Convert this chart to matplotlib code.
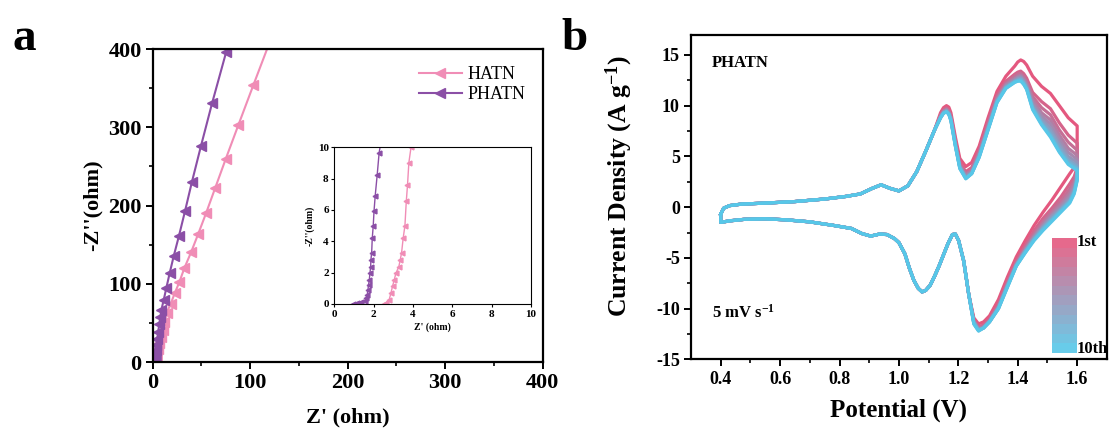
import numpy as np
import matplotlib.pyplot as plt
from matplotlib.colors import LinearSegmentedColormap

plt.rcParams['font.family'] = ['Liberation Serif', 'DejaVu Serif']
plt.rcParams['mathtext.fontset'] = 'custom'
plt.rcParams['mathtext.rm'] = 'Liberation Serif:bold'
plt.rcParams['mathtext.it'] = 'Liberation Serif:bold'
plt.rcParams['mathtext.bf'] = 'Liberation Serif:bold'
plt.rcParams['axes.unicode_minus'] = False

# Nyquist data (ohm)
hatn_re = [2.54, 2.62, 2.79, 2.88, 2.96, 3.05, 3.13, 3.28, 3.35, 3.42, 3.50, 3.59,
           3.66, 3.72, 3.79, 3.9, 5.2, 6.6, 8.2, 10.1, 12.1, 14.4, 18.5, 22.6,
           27.3, 32.5, 39.3, 46.5, 54.7, 64.0, 74.9, 87.9, 103.3, 121.0]
hatn_im = [0.0, 0.06, 0.28, 0.70, 1.13, 1.55, 1.96, 2.38, 2.81, 3.27, 4.19, 5.0,
           6.57, 7.57, 9.02, 10.0, 17, 24, 32, 41, 51, 63, 74.5, 87.8,
           102, 120, 140, 163, 190, 222, 259.4, 302.9, 354, 412]
phatn_re = [0.96, 1.13, 1.38, 1.55, 1.62, 1.67, 1.71, 1.74, 1.78, 1.81, 1.85, 1.86,
            1.90, 1.93, 1.98, 2.02, 2.08, 2.18, 2.28, 3.0, 3.8, 4.7, 5.7, 6.7,
            7.8, 8.9, 11.3, 14.0, 17.4, 21.5, 27.0, 33.2, 40.3, 49.6, 60.9, 75.3]
phatn_im = [0.0, 0.09, 0.15, 0.21, 0.36, 0.57, 0.89, 1.21, 1.53, 1.96, 2.38, 2.81,
            3.27, 4.19, 5.0, 5.93, 6.91, 8.23, 9.66, 15, 22, 30, 39, 48,
            57, 66.5, 79.2, 94.6, 113.4, 135, 161.4, 193, 230.4, 276.4, 330.6, 395.8]

# CV of PHATN, 10 cycles, potential in V, current density in A/g
# low-potential anodic part, same for every cycle
v_up_lo = [0.40, 0.41, 0.43, 0.47, 0.55, 0.65, 0.75, 0.82, 0.87, 0.91, 0.94, 0.97,
           1.00, 1.03, 1.06, 1.09, 1.12]
j_up_lo = [-0.7, -0.1, 0.15, 0.3, 0.4, 0.55, 0.8, 1.05, 1.3, 1.85, 2.2, 1.85,
           1.6, 2.1, 3.5, 5.5, 7.6]
# high-potential anodic part, one row per cycle
v_up_hi = [1.14, 1.15, 1.16, 1.168, 1.175, 1.19, 1.205, 1.225, 1.245, 1.27, 1.30, 1.33,
           1.36, 1.39, 1.40, 1.41, 1.42, 1.43, 1.45, 1.48, 1.51, 1.54, 1.57, 1.60]
j_up_hi = [
    [9.3, 9.8, 10.0, 9.85, 9.3, 6.9, 4.8, 4.0, 4.4, 6.0, 8.8, 11.4, 12.9, 13.9, 14.3, 14.5, 14.35, 14.0, 12.9, 11.9, 11.2, 10.0, 8.8, 8.0],
    [9.1, 9.6, 9.8, 9.55, 9.0, 6.6, 4.4, 3.5, 3.9, 5.6, 8.4, 11.0, 12.4, 13.1, 13.3, 13.4, 13.15, 12.7, 11.3, 10.4, 9.7, 8.3, 7.1, 6.3],
    [9.0, 9.5, 9.7, 9.45, 8.9, 6.4, 4.2, 3.3, 3.7, 5.4, 8.2, 10.8, 12.2, 12.9, 13.1, 13.2, 12.9, 12.4, 10.9, 9.8, 9.1, 7.6, 6.4, 5.6],
    [9.0, 9.45, 9.6, 9.35, 8.8, 6.3, 4.1, 3.2, 3.6, 5.3, 8.0, 10.7, 12.1, 12.7, 12.9, 13.0, 12.7, 12.2, 10.6, 9.3, 8.6, 7.1, 5.8, 5.1],
    [8.9, 9.4, 9.6, 9.3, 8.7, 6.2, 4.0, 3.1, 3.5, 5.2, 7.9, 10.6, 12.0, 12.6, 12.8, 12.9, 12.55, 12.0, 10.3, 9.0, 8.2, 6.7, 5.4, 4.7],
    [8.9, 9.35, 9.5, 9.25, 8.7, 6.2, 4.0, 3.0, 3.4, 5.1, 7.8, 10.5, 11.9, 12.5, 12.7, 12.8, 12.45, 11.9, 10.1, 8.7, 7.8, 6.3, 5.0, 4.4],
    [8.8, 9.3, 9.5, 9.2, 8.6, 6.1, 3.9, 2.9, 3.4, 5.0, 7.7, 10.4, 11.8, 12.4, 12.6, 12.7, 12.35, 11.8, 9.9, 8.5, 7.5, 6.0, 4.7, 4.1],
    [8.8, 9.25, 9.4, 9.15, 8.6, 6.1, 3.9, 2.9, 3.3, 5.0, 7.7, 10.4, 11.8, 12.4, 12.5, 12.6, 12.25, 11.7, 9.8, 8.3, 7.2, 5.7, 4.5, 3.9],
    [8.8, 9.25, 9.4, 9.15, 8.5, 6.0, 3.8, 2.8, 3.3, 4.9, 7.6, 10.3, 11.7, 12.3, 12.45, 12.5, 12.1, 11.6, 9.7, 8.2, 7.05, 5.5, 4.3, 3.75],
    [8.8, 9.25, 9.4, 9.15, 8.5, 6.0, 3.8, 2.8, 3.3, 4.9, 7.6, 10.3, 11.7, 12.3, 12.4, 12.4, 12.1, 11.6, 9.6, 8.1, 6.9, 5.4, 4.2, 3.6],
]
# high-potential cathodic part, one row per cycle
v_dn_hi = [1.60, 1.59, 1.575, 1.545, 1.515, 1.485, 1.455, 1.425, 1.395, 1.365, 1.335,
           1.305, 1.285, 1.268, 1.252]
j_dn_hi = [
    [4.4, 3.9, 3.3, 2.0, 0.7, -0.5, -1.8, -3.3, -4.9, -6.9, -9.1, -10.7, -11.3, -11.5, -10.9],
    [3.9, 3.0, 2.3, 1.0, -0.1, -1.1, -2.3, -3.8, -5.3, -7.3, -9.5, -11.0, -11.6, -11.8, -11.1],
    [3.6, 2.6, 1.8, 0.6, -0.4, -1.4, -2.6, -4.0, -5.5, -7.5, -9.7, -11.1, -11.7, -11.9, -11.2],
    [3.4, 2.3, 1.4, 0.3, -0.6, -1.6, -2.8, -4.1, -5.6, -7.6, -9.8, -11.2, -11.8, -12.0, -11.2],
    [3.2, 2.0, 1.1, 0.1, -0.8, -1.8, -2.9, -4.2, -5.6, -7.7, -9.8, -11.2, -11.8, -12.0, -11.3],
    [3.0, 1.8, 0.9, -0.1, -0.9, -1.9, -3.0, -4.3, -5.7, -7.7, -9.9, -11.2, -11.9, -12.1, -11.3],
    [2.9, 1.6, 0.7, -0.2, -1.1, -2.0, -3.1, -4.3, -5.7, -7.8, -9.9, -11.3, -11.9, -12.1, -11.4],
    [2.8, 1.5, 0.6, -0.3, -1.2, -2.1, -3.2, -4.4, -5.8, -7.8, -10.0, -11.3, -11.9, -12.1, -11.4],
    [2.7, 1.4, 0.5, -0.4, -1.3, -2.2, -3.2, -4.5, -5.8, -7.9, -10.0, -11.3, -11.9, -12.2, -11.5],
    [2.6, 1.3, 0.4, -0.5, -1.4, -2.3, -3.3, -4.5, -5.8, -7.9, -10.0, -11.3, -11.9, -12.2, -11.5],
]
# low-potential cathodic part, same for every cycle
v_dn_lo = [1.235, 1.218, 1.201, 1.19, 1.18, 1.165, 1.15, 1.135, 1.12, 1.105, 1.09, 1.078,
           1.065, 1.05, 1.035, 1.02, 1.00, 0.985, 0.96, 0.935, 0.905, 0.875, 0.84, 0.78,
           0.70, 0.62, 0.55, 0.48, 0.43, 0.40]
j_dn_lo = [-8.6, -5.3, -3.3, -2.65, -2.7, -3.6, -4.7, -5.8, -6.8, -7.7, -8.2, -8.35,
           -8.0, -7.2, -6.0, -4.6, -3.5, -3.1, -2.7, -2.65, -2.85, -2.6, -2.1, -1.8,
           -1.45, -1.25, -1.15, -1.2, -1.35, -1.5]

hatn_col = '#F08DB6'
phatn_col = '#8B4FA6'
cv_cmap = LinearSegmentedColormap.from_list('cyc', ['#E4587F', '#57C7E8'])

fig = plt.figure(figsize=(11.12, 4.32), dpi=100)

# ---- a: Nyquist ----
ax1 = fig.add_axes([0.1373, 0.162, 0.3507, 0.7245])
ax1.plot(hatn_re, hatn_im, '-', marker='<', color=hatn_col, lw=1.5, ms=6.5, label='HATN')
ax1.plot(phatn_re, phatn_im, '-', marker='<', color=phatn_col, lw=1.5, ms=6.5, label='PHATN')
ax1.set_xlim(0, 400)
ax1.set_ylim(0, 400)
ax1.set_xticks([0, 100, 200, 300, 400])
ax1.set_yticks([0, 100, 200, 300, 400])
ax1.set_xticks(np.arange(50, 400, 100), minor=True)
ax1.set_yticks(np.arange(50, 400, 100), minor=True)
ax1.set_xlabel("Z' (ohm)", fontsize=16, fontweight='bold', labelpad=10)
ax1.set_ylabel("-Z''(ohm)", fontsize=16, fontweight='bold', labelpad=4)
ax1.legend(loc='upper left', bbox_to_anchor=(0.65, 0.985), frameon=False,
           prop={'size': 13}, handlelength=2.4, handletextpad=0.3,
           labelspacing=0.15, borderpad=0.2)

# inset: high-frequency region
axi = fig.add_axes([0.3006, 0.2963, 0.177, 0.3627])
axi.plot(hatn_re, hatn_im, '-', marker='<', color=hatn_col, lw=1.0, ms=3.5)
axi.plot(phatn_re, phatn_im, '-', marker='<', color=phatn_col, lw=1.0, ms=3.5)
axi.set_xlim(0, 10)
axi.set_ylim(0, 10)
axi.set_xticks(range(0, 11, 2))
axi.set_yticks(range(0, 11, 2))
axi.set_xlabel("Z' (ohm)", fontsize=7, fontweight='bold', labelpad=3)
axi.set_ylabel("-Z''(ohm)", fontsize=7, fontweight='bold', labelpad=2)
for lab in axi.get_xticklabels() + axi.get_yticklabels():
    lab.set_fontweight('bold')
    lab.set_fontsize(8)
axi.tick_params(direction='out', length=2.5, width=0.8, pad=1.5)
for s in axi.spines.values():
    s.set_linewidth(0.8)

# ---- b: CV ----
ax2 = fig.add_axes([0.6214, 0.168, 0.374, 0.752])
cols = cv_cmap(np.linspace(0, 1, len(j_up_hi)))
for k in range(len(j_up_hi)):
    v = v_up_lo + v_up_hi + v_dn_hi + v_dn_lo + v_up_lo[:1]
    j = j_up_lo + j_up_hi[k] + j_dn_hi[k] + j_dn_lo + j_up_lo[:1]
    ax2.plot(v, j, color=cols[k], lw=2.3, solid_joinstyle='round')
ax2.set_xlim(0.3, 1.7)
ax2.set_ylim(-15, 17)
ax2.set_xticks(np.arange(0.4, 1.61, 0.2))
ax2.set_xticklabels(['0.4', '0.6', '0.8', '1.0', '1.2', '1.4', '1.6'])
ax2.set_xticks(np.arange(0.5, 1.7, 0.2), minor=True)
ax2.set_yticks(range(-15, 16, 5))
ax2.set_yticks(np.arange(-12.5, 16, 5), minor=True)
ax2.set_xlabel('Potential (V)', fontsize=18, fontweight='bold', labelpad=8)
ax2.set_ylabel('Current Density (A g$^{-1}$)', fontsize=18.5, fontweight='bold')
ax2.yaxis.set_label_coords(-0.135, 0.535)
ax2.text(0.05, 0.913, 'PHATN', transform=ax2.transAxes, fontsize=12,
         fontweight='bold', va='center')
ax2.text(0.05, 0.143, '5 mV s$^{-1}$', transform=ax2.transAxes, fontsize=12,
         fontweight='bold', va='center')

# cycle colour scale
axc = ax2.inset_axes([0.868, 0.02, 0.06, 0.353])
axc.imshow(np.linspace(0, 1, 12)[:, None], cmap=cv_cmap, aspect='auto', alpha=0.9)
axc.set_axis_off()
ax2.text(0.928, 0.36, '1st', transform=ax2.transAxes, fontsize=12,
         fontweight='bold', va='center', ha='left')
ax2.text(0.928, 0.032, '10th', transform=ax2.transAxes, fontsize=12,
         fontweight='bold', va='center', ha='left', clip_on=False)

for ax in (ax1, ax2):
    ax.tick_params(which='major', direction='out', length=5, width=1.4, pad=3)
    ax.tick_params(which='minor', direction='out', length=3, width=1.2)
    for s in ax.spines.values():
        s.set_linewidth(1.6)
ax1.tick_params(which='major', labelsize=16)
ax2.tick_params(which='major', labelsize=13)
for ax in (ax1, ax2):
    for lab in ax.get_xticklabels() + ax.get_yticklabels():
        lab.set_fontweight('bold')

fig.text(0.011, (432 - 50) / 432, 'a', fontsize=34, fontweight='bold', va='baseline')
fig.text(0.505, (432 - 50) / 432, 'b', fontsize=34, fontweight='bold', va='baseline')

fig.savefig('out.png', dpi=100)
